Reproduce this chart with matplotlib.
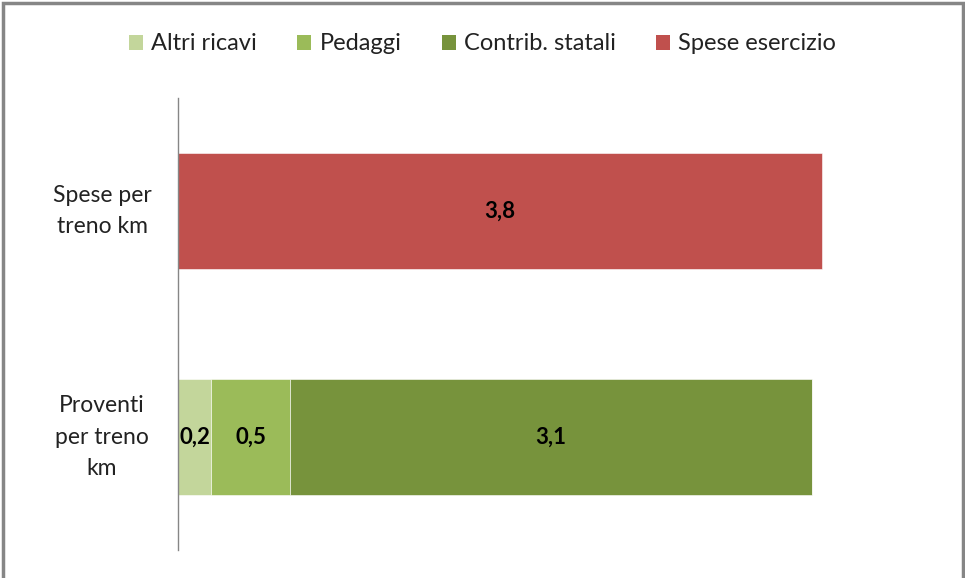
import matplotlib.pyplot as plt
from matplotlib.patches import Rectangle

plt.rcParams['font.family'] = ['Lato', 'DejaVu Sans']

categories = ["Proventi\nper treno\nkm", "Spese per\ntreno km"]
series = ["Altri ricavi", "Pedaggi", "Contrib. statali", "Spese esercizio"]
colors = ["#C3D69B", "#9BBB59", "#77933C", "#C0504D"]
# values per series: [Proventi, Spese]
altri = [0.195, 0]
pedaggi = [0.465, 0]
contrib = [3.085, 0]
spese = [0, 3.8]
labels = {
    "Altri ricavi": ["0,2", ""],
    "Pedaggi": ["0,5", ""],
    "Contrib. statali": ["3,1", ""],
    "Spese esercizio": ["", "3,8"],
}

fig = plt.figure(figsize=(9.65, 5.78), dpi=100)
ax = fig.add_axes([0.1845, 0.0484, 0.79, 0.782])

ypos = [0, 1]
left = [0, 0]
for name, vals, col in zip(series, [altri, pedaggi, contrib, spese], colors):
    bars = ax.barh(ypos, vals, left=left, height=0.51, color=col,
                   edgecolor="white", linewidth=0.4, label=name)
    for b, v, lab in zip(bars, vals, labels[name]):
        if v > 0:
            ax.text(b.get_x() + b.get_width() / 2, b.get_y() + b.get_height() / 2,
                    lab, ha="center", va="center", fontsize=16, fontweight="bold",
                    color="black")
    left = [l + v for l, v in zip(left, vals)]

ax.set_xlim(0, 4.5)
ax.set_ylim(-0.5, 1.5)
ax.set_yticks(ypos)
ax.set_yticklabels([])
ax.tick_params(axis="y", length=0)
ax.set_xticks([])
# category labels, centred lines
for y, cat in zip(ypos, categories):
    ax.text(-0.0997, y, cat, transform=ax.get_yaxis_transform(), ha="center",
            va="center", multialignment="center", fontsize=16.5,
            linespacing=1.6, color="#222222")
for s in ["top", "right", "bottom"]:
    ax.spines[s].set_visible(False)
ax.spines["left"].set_color("#868686")
ax.spines["left"].set_linewidth(1)

leg = fig.legend(loc="center", bbox_to_anchor=(0.5, 0.924), ncol=4, frameon=False,
                 fontsize=17, handlelength=0.6, handleheight=0.6,
                 handletextpad=0.35, columnspacing=1.7)
for t in leg.get_texts():
    t.set_color("#222222")
for h in leg.legend_handles:
    h.set_edgecolor("none")

fig.patches.append(Rectangle((0.003, -0.01), 0.995, 1.005, transform=fig.transFigure,
                             fill=False, edgecolor="#868686", linewidth=2.5))

fig.savefig("out.png", dpi=100)
